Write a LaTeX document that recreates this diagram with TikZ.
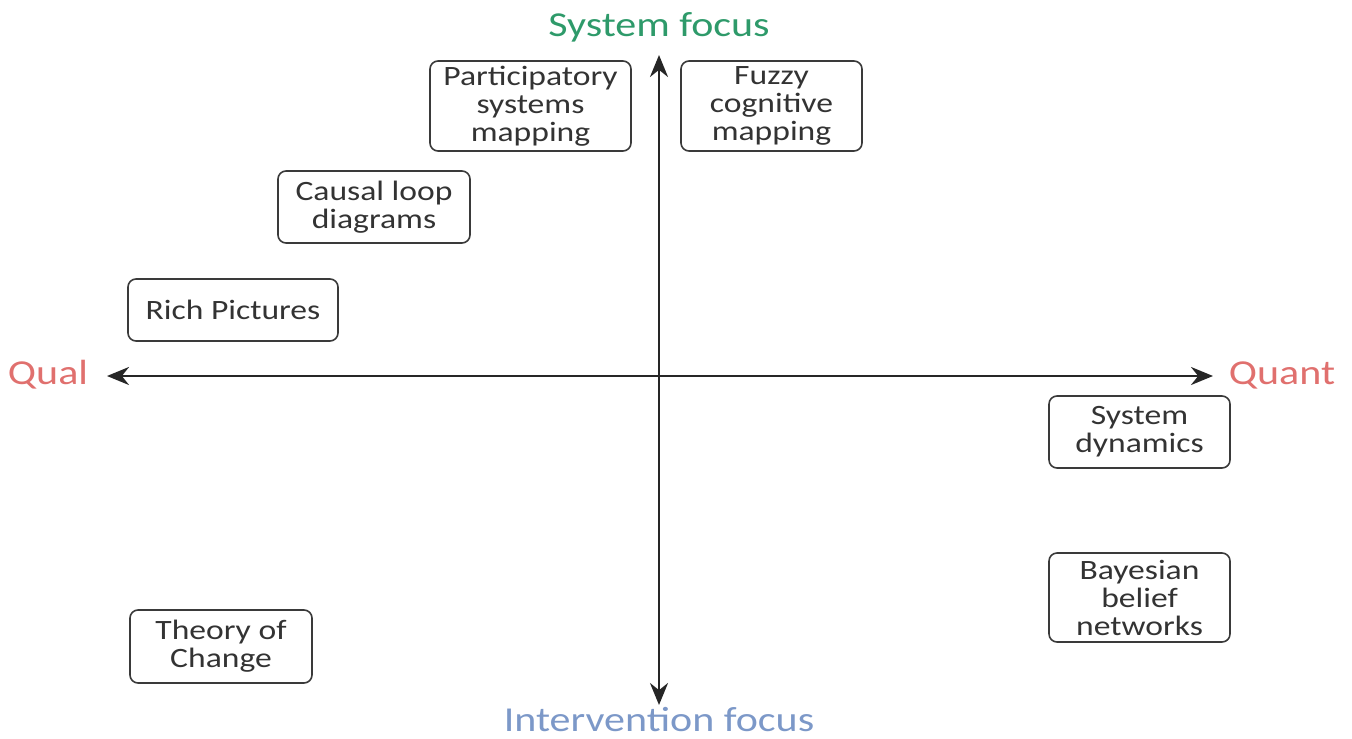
\documentclass[tikz,border=0pt]{standalone}
\usepackage{fontspec}
\setmainfont{Carlito}[FakeStretch=1.2]
\usetikzlibrary{arrows.meta}
\definecolor{sysgreen}{HTML}{2E9A6A}
\definecolor{qualred}{HTML}{E0706E}
\definecolor{intblue}{HTML}{7C98C8}
\definecolor{boxline}{HTML}{3A3A3A}
\definecolor{txt}{HTML}{333333}
\tikzset{
  mbox/.style={draw=boxline, line width=0.8pt, rounded corners=4pt, align=center,
    font=\fontsize{14}{14}\selectfont, text=txt, inner sep=0pt},
  axis/.style={line width=1.4pt, draw=black!85, {Stealth[length=11pt,width=9pt]}-{Stealth[length=11pt,width=9pt]}},
  axlabel/.style={font=\fontsize{17.5}{20}\selectfont, inner sep=0pt, anchor=base}
}
\begin{document}
\begin{tikzpicture}[x=0.5pt,y=-0.5pt]
\useasboundingbox (0,0) rectangle (1352,738);
% axis labels
\node[axlabel, text=sysgreen] (sys) at (659,37) {System focus};
\node[axlabel, text=intblue] (int) at (659,731) {Intervention focus};
\node[axlabel, text=qualred] (qual) at (48,384) {Qual};
\node[axlabel, text=qualred] (quant) at (1282,384) {Quant};
% axes endpoints
\coordinate (top) at (659,55);
\coordinate (bot) at (659,705);
\coordinate (left) at (107,376);
\coordinate (right) at (1213,376);
\draw[axis] (left) -- (right);
\draw[axis] (bot) -- (top);
% boxes
\node[mbox, minimum width=100.5pt, minimum height=45pt] (psm) at (530.5,106) {Participatory\\systems\\mapping};
\node[mbox, minimum width=90.5pt, minimum height=45pt] (fcm) at (771.5,106) {Fuzzy\\cognitive\\mapping};
\node[mbox, minimum width=96pt, minimum height=36pt] (cld) at (374,207) {Causal loop\\diagrams};
\node[mbox, minimum width=105pt, minimum height=31pt] (rp) at (233,310) {Rich Pictures};
\node[mbox, minimum width=90.5pt, minimum height=36pt] (sd) at (1139.5,432) {System\\dynamics};
\node[mbox, minimum width=90.5pt, minimum height=44.5pt] (bbn) at (1139.5,597.5) {Bayesian\\belief\\networks};
\node[mbox, minimum width=91pt, minimum height=36.5pt] (toc) at (221,646.5) {Theory of\\Change};
\end{tikzpicture}
\end{document}
